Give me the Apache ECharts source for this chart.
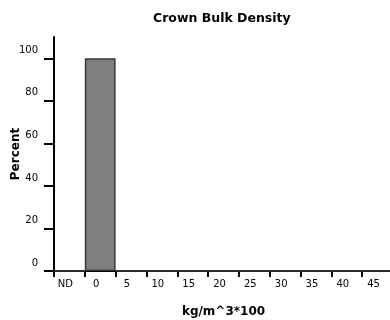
<!DOCTYPE html>
<html>
<head>
<meta charset="utf-8">
<script src="https://cdn.jsdelivr.net/npm/echarts@6/dist/echarts.min.js"></script>
<style>
  html, body { margin: 0; padding: 0; background: #fff; }
  #chart { width: 390px; height: 320px; }
</style>
</head>
<body>
<div id="chart"></div>
<script>
// Crown bulk density distribution (percent of plots per class)
const categories = ['ND', '0', '5', '10', '15', '20', '25', '30', '35', '40', '45'];
const percentValues = [0, 100, 0, 0, 0, 0, 0, 0, 0, 0, 0];
const yTickValues = [0, 20, 40, 60, 80, 100];

const chart = echarts.init(document.getElementById('chart'), null, { renderer: 'canvas' });

const labelFont = 'DejaVu Sans, Liberation Sans, sans-serif';

chart.setOption({
  animation: false,
  backgroundColor: '#ffffff',
  title: {
    text: 'Crown Bulk Density',
    left: 148,
    top: 7,
    textStyle: { fontFamily: labelFont, fontSize: 12.5, fontWeight: 'bold', color: '#000' }
  },
  grid: { left: 54, top: 37, bottom: 49, width: 339, containLabel: false, outerBoundsMode: 'none' },
  xAxis: {
    type: 'category',
    data: categories,
    boundaryGap: true,
    name: 'kg/m^3*100',
    nameLocation: 'middle',
    nameGap: 35,
    nameMoveOverlap: false,
    nameTextStyle: { fontFamily: labelFont, fontSize: 12, fontWeight: 'bold', color: '#000' },
    axisLine: { lineStyle: { color: '#000', width: 2 } },
    axisTick: { show: true, alignWithLabel: false, length: 6, lineStyle: { color: '#000', width: 2 } },
    axisLabel: { fontFamily: labelFont, fontSize: 10, color: '#000', margin: 8, padding: [0, 8, 0, 0], interval: 0 },
    splitLine: { show: false }
  },
  yAxis: {
    type: 'value',
    min: 0,
    max: 110,
    name: 'Percent',
    nameLocation: 'middle',
    nameGap: 32,
    nameRotate: 90,
    nameMoveOverlap: false,
    nameTextStyle: { fontFamily: labelFont, fontSize: 12, fontWeight: 'bold', color: '#000' },
    axisLine: { show: true, lineStyle: { color: '#000', width: 2 } },
    axisTick: { show: true, length: 10, customValues: yTickValues, lineStyle: { color: '#000', width: 2 } },
    axisLabel: {
      fontFamily: labelFont, fontSize: 10, color: '#000', margin: 16,
      customValues: yTickValues, verticalAlign: 'bottom', lineHeight: 12, padding: [0, 0, 2, 0]
    },
    splitLine: { show: false }
  },
  series: [{
    type: 'bar',
    data: percentValues,
    barCategoryGap: '0%',
    itemStyle: {
      color: '#808080',
      borderColor: '#3a3a3a',
      borderWidth: 1.5
    }
  }]
});
</script>
</body>
</html>
